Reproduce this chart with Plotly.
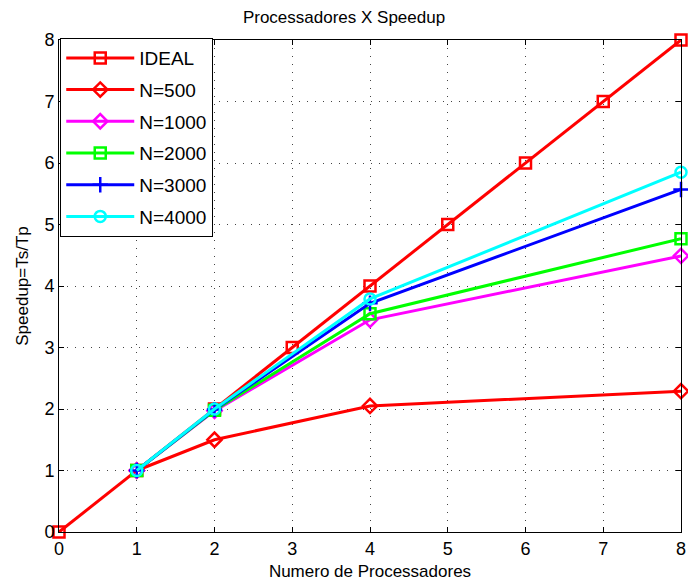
import plotly.graph_objects as go

ideal_x = [0, 1, 2, 3, 4, 5, 6, 7, 8]
ideal_y = [0, 1, 2, 3, 4, 5, 6, 7, 8]
procs = [1, 2, 4, 8]
n500 = [1.0, 1.5, 2.05, 2.29]
n1000 = [1.0, 1.97, 3.45, 4.49]
n2000 = [1.0, 1.98, 3.55, 4.77]
n3000 = [1.0, 1.99, 3.72, 5.57]
n4000 = [1.0, 2.0, 3.79, 5.85]

series = [
    ("IDEAL", ideal_x, ideal_y, "#ff0000", "square-open"),
    ("N=500", procs, n500, "#ff0000", "diamond-open"),
    ("N=1000", procs, n1000, "#ff00ff", "diamond-open"),
    ("N=2000", procs, n2000, "#00ff00", "square-open"),
    ("N=3000", procs, n3000, "#0000ff", "cross-thin-open"),
    ("N=4000", procs, n4000, "#00ffff", "circle-open"),
]

fig = go.Figure()
for i, (name, xs, ys, col, sym) in enumerate(series):
    fig.add_trace(go.Scatter(
        x=xs, y=ys, name=name, mode="lines+markers",
        line=dict(color=col, width=3),
        marker=dict(symbol=sym, size=11, color=col, line=dict(color=col, width=2.5)),
        legendgroup=f"g{i}", cliponaxis=False,
    ))

axis_common = dict(
    showline=True, linecolor="black", linewidth=1, mirror="allticks",
    ticks="inside", ticklen=5, tickcolor="black",
    showgrid=True, gridcolor="#444444", griddash="1px,7px", gridwidth=1,
    zeroline=False, tickfont=dict(size=18, color="black"),
    tick0=0, dtick=1, automargin=False,
)

fig.update_layout(
    width=688, height=585,
    margin=dict(l=59, r=7, t=40, b=53),
    paper_bgcolor="white", plot_bgcolor="white",
    font=dict(family="Liberation Sans, Arial, sans-serif", color="black"),
    title=dict(text="Processadores X Speedup", x=0.5, xanchor="center",
               y=1 - 17 / 585, yanchor="middle", font=dict(size=17)),
    xaxis=dict(range=[0, 8], title=dict(text="Numero de Processadores", font=dict(size=17), standoff=7), **axis_common),
    yaxis=dict(range=[0, 8], title=dict(text="Speedup=Ts/Tp", font=dict(size=17), standoff=11), **axis_common),
    legend=dict(x=0.002, y=1.004, xanchor="left", yanchor="top",
                bgcolor="white", bordercolor="black", borderwidth=1,
                font=dict(size=19), tracegroupgap=4, itemwidth=68),
    showlegend=True,
)

fig.write_html("out.html", config={"displayModeBar": False},
               post_script="document.body.style.margin='0';document.body.style.overflow='hidden';")
